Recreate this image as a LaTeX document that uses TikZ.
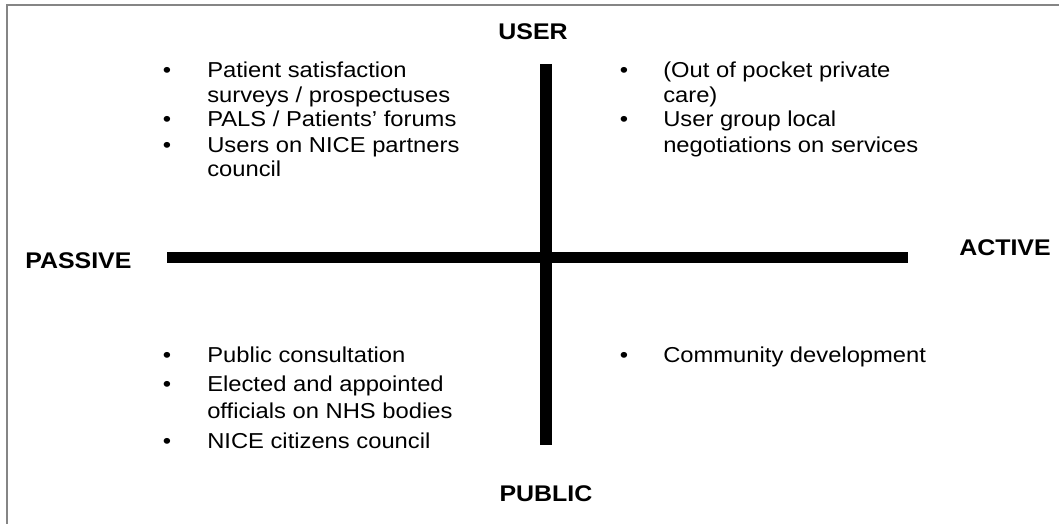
\documentclass[tikz,border=0pt]{standalone}
\usepackage{fontspec}
\setmainfont{Liberation Sans}[FakeStretch=1.1]
\begin{document}
\begin{tikzpicture}[x=0.75pt,y=-0.75pt,
  body/.style={inner sep=0pt,font=\fontsize{16.2}{18}\selectfont},
  txt/.style={body,anchor=base west},
  bul/.style={body,anchor=base},
  axislabel/.style={inner sep=0pt,anchor=base,font=\fontsize{17}{19}\selectfont\bfseries},
  bar/.style={line width=8.3pt},
  frame/.style={draw=black!48,line width=1.5pt}]
\useasboundingbox (0,0) rectangle (1059,524);

% frame along the top and left edges
\coordinate (ftr) at (1059,5);
\coordinate (ftl) at (7,5);
\coordinate (fbl) at (7,524);
\draw[frame] (ftr) -- (ftl) -- (fbl);

% axes
\coordinate (vtop) at (546,64);
\coordinate (vbot) at (546,445);
\coordinate (hleft) at (167,257.5);
\coordinate (hright) at (908,257.5);
\draw[bar] (vtop) -- (vbot);
\draw[bar] (hleft) -- (hright);

% axis labels
\node[axislabel] (user) at (533,40) {USER};
\node[axislabel] (public) at (546,501) {PUBLIC};
\node[axislabel,anchor=base west] (passive) at (25,268) {PASSIVE};
\node[axislabel,anchor=base east] (active) at (1051,255) {ACTIVE};

% user / passive
\node[bul] (b1) at (167,78) {•};
\node[txt] (t1a) at (207,78) {Patient satisfaction};
\node[txt] (t1b) at (207,102.5) {surveys / prospectuses};
\node[bul] (b2) at (167,127) {•};
\node[txt] (t2a) at (207,127) {PALS / Patients’ forums};
\node[bul] (b3) at (167,152) {•};
\node[txt] (t3a) at (207,152) {Users on NICE partners};
\node[txt] (t3b) at (207,176.5) {council};

% user / active
\node[bul] (b4) at (624,78) {•};
\node[txt] (t4a) at (663,78) {(Out of pocket private};
\node[txt] (t4b) at (663,102.5) {care)};
\node[bul] (b5) at (624,127) {•};
\node[txt] (t5a) at (663,127) {User group local};
\node[txt] (t5b) at (663,152) {negotiations on services};

% public / passive
\node[bul] (b6) at (167,362) {•};
\node[txt] (t6a) at (207,362) {Public consultation};
\node[bul] (b7) at (167,391) {•};
\node[txt] (t7a) at (207,391) {Elected and appointed};
\node[txt] (t7b) at (207,418) {officials on NHS bodies};
\node[bul] (b8) at (167,448) {•};
\node[txt] (t8a) at (207,448) {NICE citizens council};

% public / active
\node[bul] (b9) at (624,362) {•};
\node[txt] (t9a) at (663,362) {Community development};
\end{tikzpicture}
\end{document}
